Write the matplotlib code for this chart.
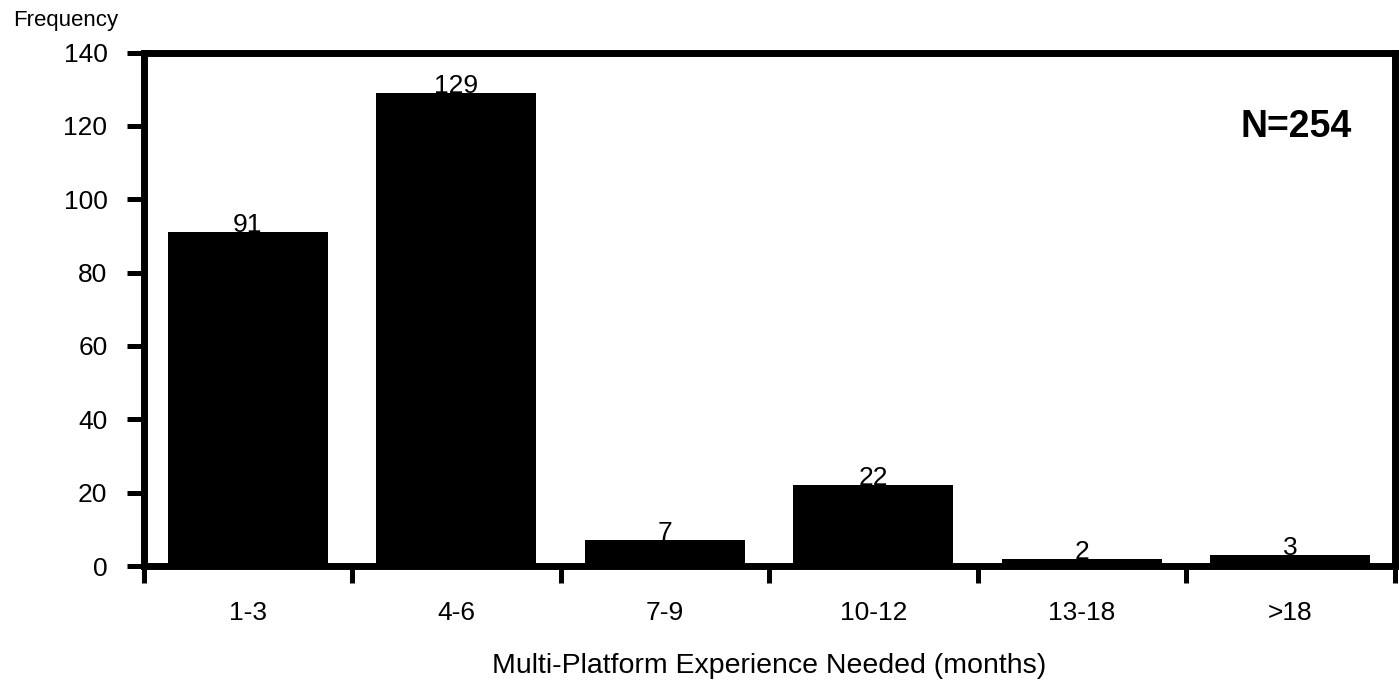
import matplotlib
matplotlib.use("Agg")
import matplotlib.pyplot as plt

categories = ["1-3", "4-6", "7-9", "10-12", "13-18", ">18"]
values = [91, 129, 7, 22, 2, 3]
yticks = [0, 20, 40, 60, 80, 100, 120, 140]

plt.rcParams['font.family'] = ['Liberation Sans', 'DejaVu Sans']

W, H = 1399, 682
fig = plt.figure(figsize=(W / 100, H / 100), dpi=100)
left, right, top, bottom = 143.5, 1394.5, 52.5, 566
ax = fig.add_axes([left / W, 1 - bottom / H, (right - left) / W, (bottom - top) / H])

x = list(range(len(categories)))
ax.bar(x, values, width=0.767, color='black', zorder=1)
for xi, v in zip(x, values):
    ax.text(xi, v, str(v), ha='center', va='baseline', fontsize=19, zorder=3)

ax.set_xlim(-0.5, len(categories) - 0.5)
ax.set_ylim(0, 140)
ax.set_yticks(yticks)
ax.set_yticklabels([str(t) for t in yticks], fontsize=19)
ax.set_xticks([i - 0.5 for i in range(len(categories) + 1)])
ax.set_xticklabels([])
ax.set_xticks(x, minor=True)
ax.set_xticklabels(categories, minor=True, fontsize=19)
ax.tick_params(axis='x', which='minor', length=0, pad=25)
ax.tick_params(axis='x', which='major', length=12, width=3.6, direction='out')
ax.tick_params(axis='y', length=12, width=3.6, direction='out', pad=14)
for s in ax.spines.values():
    s.set_linewidth(5)
    s.set_zorder(2)

fig.text((left + right) / 2 / W, 1 - 673 / H,
         "Multi-Platform Experience Needed (months)", fontsize=20.5,
         ha='center', va='baseline')
fig.text(13 / W, 1 - 26 / H, "Frequency", fontsize=16, ha='left', va='baseline')
fig.text(1352 / W, 1 - 137 / H, "N=254", fontsize=27, fontweight='bold',
         ha='right', va='baseline')

fig.savefig("out.png", dpi=100)
